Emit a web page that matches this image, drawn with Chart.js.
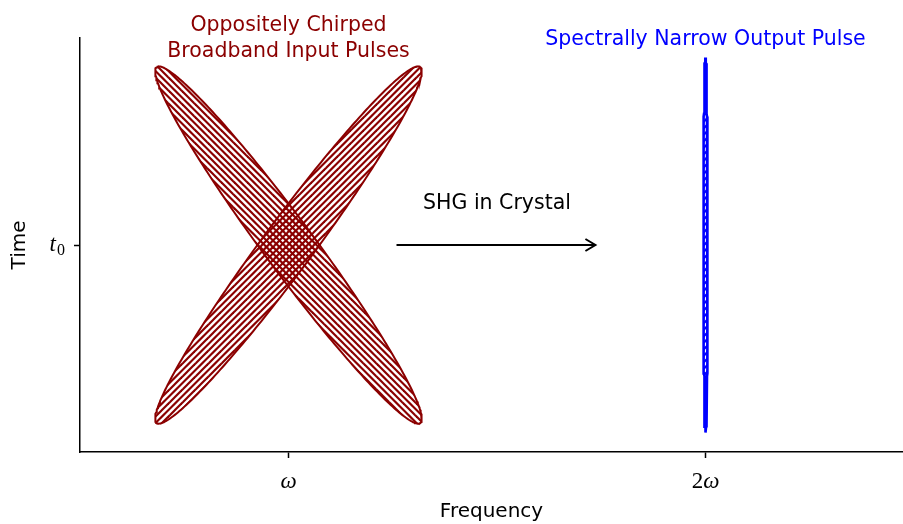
<!DOCTYPE html>
<html>
<head>
<meta charset="utf-8">
<script src="https://cdn.jsdelivr.net/npm/chart.js@4"></script>
<style>
  html, body { margin: 0; padding: 0; background: #fff; overflow: hidden; }
  #wrap { width: 903px; height: 524px; }
</style>
</head>
<body>
<div id="wrap"><canvas id="chart"></canvas></div>
<script>
'use strict'

// axis ticks
var xTicks = [1, 2];
var xTickLabels = [['', 'ω'], ['2', 'ω']];   // [upright part, italic part]
var yTicks = [0];
var yTickLabels = [['t', '0']];              // [italic, subscript]

// pulse ellipses (data units): centre, tip vector, half-width vector, hatch
var pulseNames = ['chirp down', 'chirp up', 'output'];
var pulseCenterX = [1, 1, 2];
var pulseCenterY = [0, 0, 0];
var pulseTipX = [-0.316, 0.316, 0];
var pulseTipY = [0.86, 0.86, 0.906];
var pulseWidthX = [0.0483, 0.0483, 0.005];
var pulseWidthY = [0.072, -0.072, 0];
var pulseHatch = ['\\', '/', '/'];
var pulseColors = ['#8b0000', '#8b0000', '#0000ff'];
var pulseLineWidths = [2, 2, 2.6];

// arrow + labels
var arrowFrom = [1.259, 0];
var arrowTo = [1.736, 0];
var notes = [
    { text: 'Oppositely Chirped', x: 1, y: 1.06, color: '#8b0000' },
    { text: 'Broadband Input Pulses', x: 1, y: 0.935, color: '#8b0000' },
    { text: 'Spectrally Narrow Output Pulse', x: 2.0, y: 0.99, color: '#0000ff' },
    { text: 'SHG in Crystal', x: 1.5, y: 0.2, color: '#000000' }
];

var SANS = '"DejaVu Sans", sans-serif';
var SERIF = '"Liberation Serif", "DejaVu Serif", serif';

// diagonal hatch tile, like matplotlib '////'
function hatchPattern(dir, color) {
    var gap = 6.5, size = 13;
    var c = document.createElement('canvas');
    c.width = size; c.height = size;
    var g = c.getContext('2d');
    g.strokeStyle = color;
    g.lineWidth = 2.2;
    for (var k = -2; k <= 6; k++) {
        var o = k * gap;
        g.beginPath();
        if (dir === '/') { g.moveTo(-size, o + size); g.lineTo(o + size, -size); }
        else { g.moveTo(o - size, -size); g.lineTo(o + 2 * size, 2 * size); }
        g.stroke();
    }
    return g.createPattern(c, 'repeat');
}

function ellipsePoints(i) {
    var pts = [];
    for (var s = 0; s <= 300; s++) {
        var a = s / 300 * Math.PI * 2;
        pts.push({
            x: pulseCenterX[i] + Math.cos(a) * pulseTipX[i] + Math.sin(a) * pulseWidthX[i],
            y: pulseCenterY[i] + Math.cos(a) * pulseTipY[i] + Math.sin(a) * pulseWidthY[i]
        });
    }
    return pts;
}

var datasets = pulseNames.map(function (name, i) {
    return {
        label: name,
        data: ellipsePoints(i),
        showLine: true,
        borderColor: pulseColors[i],
        backgroundColor: hatchPattern(pulseHatch[i], pulseColors[i]),
        fill: 'shape',
        borderWidth: pulseLineWidths[i],
        pointRadius: 0,
        tension: 0
    };
});

datasets.push({
    label: 'arrow',
    data: [{ x: arrowFrom[0], y: arrowFrom[1] }, { x: arrowTo[0], y: arrowTo[1] }],
    showLine: true,
    borderColor: '#000',
    borderWidth: 2,
    pointRadius: 0
});

var notesPlugin = {
    id: 'notes',
    afterDraw: function (chart) {
        var ctx = chart.ctx;
        var xs = chart.scales.x, ys = chart.scales.y;
        ctx.save();
        // arrow head
        var hx = xs.getPixelForValue(arrowTo[0]);
        var hy = ys.getPixelForValue(arrowTo[1]);
        ctx.strokeStyle = '#000';
        ctx.lineWidth = 2;
        ctx.beginPath();
        ctx.moveTo(hx - 10, hy - 6);
        ctx.lineTo(hx, hy);
        ctx.lineTo(hx - 10, hy + 6);
        ctx.stroke();
        // texts
        ctx.font = '20.5px ' + SANS;
        ctx.textAlign = 'center';
        ctx.textBaseline = 'middle';
        notes.forEach(function (n) {
            ctx.fillStyle = n.color;
            ctx.fillText(n.text, xs.getPixelForValue(n.x), ys.getPixelForValue(n.y));
        });

        // tick labels (math style)
        ctx.fillStyle = '#000';
        ctx.textBaseline = 'alphabetic';
        ctx.textAlign = 'left';
        xTicks.forEach(function (v, i) {
            var up = xTickLabels[i][0], it = xTickLabels[i][1];
            ctx.font = '23px ' + SERIF;
            var w1 = ctx.measureText(up).width;
            ctx.font = 'italic 23px ' + SERIF;
            var w2 = ctx.measureText(it).width;
            var x0 = xs.getPixelForValue(v) - (w1 + w2) / 2;
            var yb = xs.top + 36;
            ctx.font = '23px ' + SERIF;
            ctx.fillText(up, x0, yb);
            ctx.font = 'italic 23px ' + SERIF;
            ctx.fillText(it, x0 + w1, yb);
        });
        yTicks.forEach(function (v, i) {
            var yb = ys.getPixelForValue(v) + 6;
            ctx.font = 'italic 23px ' + SERIF;
            var wt = ctx.measureText(yTickLabels[i][0]).width;
            ctx.font = '16px ' + SERIF;
            var ws = ctx.measureText(yTickLabels[i][1]).width;
            var x0 = ys.right - 16 - wt - ws;
            ctx.font = 'italic 23px ' + SERIF;
            ctx.fillText(yTickLabels[i][0], x0, yb);
            ctx.font = '16px ' + SERIF;
            ctx.fillText(yTickLabels[i][1], x0 + wt + 1, yb + 4);
        });
        ctx.restore();
    }
};

new Chart(document.getElementById('chart'), {
    type: 'scatter',
    data: { datasets: datasets },
    options: {
        responsive: true,
        maintainAspectRatio: false,
        animation: false,
        events: [],
        layout: { padding: { top: 38, right: 0, left: 0, bottom: 0 } },
        plugins: { legend: { display: false }, tooltip: { enabled: false } },
        scales: {
            x: {
                type: 'linear',
                min: 0.5,
                max: 2.4736,
                afterBuildTicks: function (s) { s.ticks = xTicks.map(function (v) { return { value: v }; }); },
                afterFit: function (s) { s.height = 72; },
                ticks: { display: false },
                grid: { drawOnChartArea: false, drawTicks: true, tickLength: 6, tickWidth: 1.5, color: '#000' },
                border: { display: true, color: '#000', width: 1.5 },
                title: {
                    display: true,
                    text: 'Frequency',
                    color: '#000',
                    font: { family: SANS, size: 20 },
                    padding: { top: 0, bottom: 0 }
                }
            },
            y: {
                type: 'linear',
                min: -1,
                max: 1,
                afterBuildTicks: function (s) { s.ticks = yTicks.map(function (v) { return { value: v }; }); },
                afterFit: function (s) { s.width = 80; },
                ticks: { display: false },
                grid: { drawOnChartArea: false, drawTicks: true, tickLength: 6, tickWidth: 1.5, color: '#000' },
                border: { display: true, color: '#000', width: 1.5 },
                title: {
                    display: true,
                    text: 'Time',
                    color: '#000',
                    font: { family: SANS, size: 20 },
                    padding: { top: 8, bottom: 0 }
                }
            }
        }
    },
    plugins: [notesPlugin]
});
</script>
</body>
</html>
